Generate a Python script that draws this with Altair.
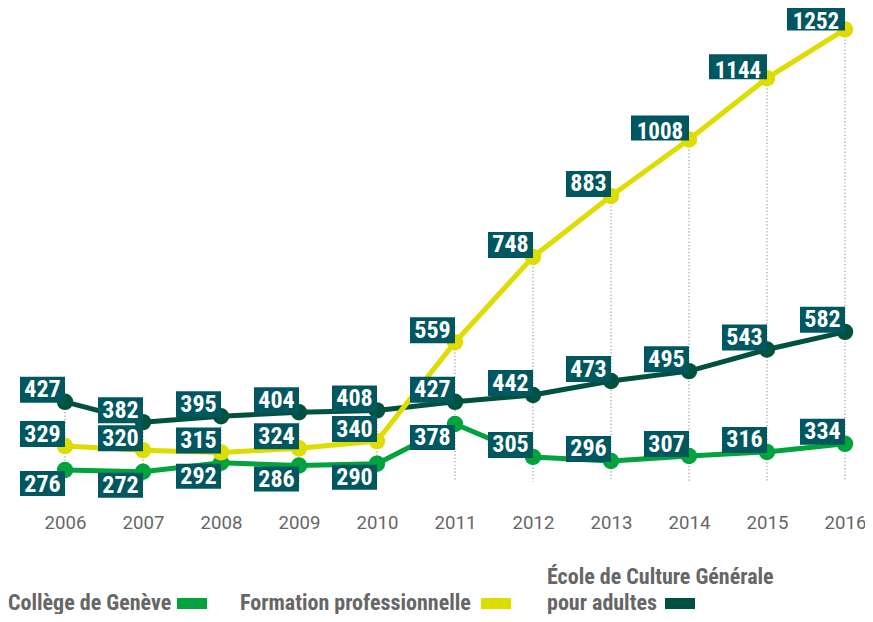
import altair as alt
import pandas as pd

years = list(range(2006, 2017))
series_names = ["École de Culture Générale pour adultes", "Collège de Genève", "Formation professionnelle"]
college = [276, 272, 292, 286, 290, 378, 305, 296, 307, 316, 334]
formation = [329, 320, 315, 324, 340, 559, 748, 883, 1008, 1144, 1252]
ecg = [427, 382, 395, 404, 408, 427, 442, 473, 495, 543, 582]
colors = {"Collège de Genève": "#00a33c", "Formation professionnelle": "#dedc00",
          "École de Culture Générale pour adultes": "#00513f"}

rows = []
for name, vals in zip(series_names, [ecg, college, formation]):
    for y, v in zip(years, vals):
        rows.append({"year": y, "series": name, "value": v})
df = pd.DataFrame(rows)

NARROW = "Liberation Sans Narrow, Arial Narrow, Roboto Condensed, sans-serif"
BOX = "#005760"

xs = alt.Scale(domain=[2006, 2016], nice=False, zero=False)
ys = alt.Scale(domain=[231.7, 1290.5], nice=False, zero=False)

base = alt.Chart(df)

xenc = alt.X("year:Q", scale=xs,
             axis=alt.Axis(values=years, format="d", grid=False, domain=False, ticks=False,
                           tickSize=0, labelPadding=38, labelFont="Roboto", labelFontSize=18.6,
                           labelColor="#666666", labelBaseline="alphabetic", title=None,
                           labelFlush=False))
yenc = alt.Y("value:Q", scale=ys, axis=None)

rules = base.transform_aggregate(top="max(value)", groupby=["year"]).transform_calculate(
    bottom="250").mark_rule(color="#999999", strokeWidth=1.2, strokeDash=[1.2, 2.2]).encode(
    x=xenc, y=alt.Y("top:Q", scale=ys, axis=None), y2="bottom:Q")

layers = [rules]
for name in series_names:
    s = base.transform_filter(alt.datum.series == name)
    layers.append(s.mark_line(color=colors[name], strokeWidth=5).encode(x=xenc, y=yenc))
    layers.append(s.mark_circle(color=colors[name], size=270, opacity=1).encode(x=xenc, y=yenc))

below = "(datum.series == 'Collège de Genève' && datum.year <= 2011)"
four = "(datum.value >= 1000)"

def label_layers(cond, w, yoff, y2off, dy, fs=24):
    s = base.transform_filter(cond)
    r = s.mark_rect(color=BOX, xOffset=-w, x2Offset=0, yOffset=yoff, y2Offset=y2off).encode(
        x=xenc, x2="year:Q", y=yenc, y2="value:Q")
    t = s.mark_text(color="white", font=NARROW, fontWeight="bold", fontSize=fs,
                    align="center", baseline="middle", dx=-w / 2, dy=dy).encode(
        x=xenc, y=yenc, text="value:Q")
    return [r, t]

layers += label_layers(f"!{below} && !{four}", 45, -25, 1, -11.5)
layers += label_layers(f"!{below} && {four}", 58, -24, 1, -7.5, 23)
layers += label_layers(f"{below}", 45, 1, 26, 14.5)

# legend
LEG = "#666666"
def leg_text(txt, x, y):
    return alt.Chart(pd.DataFrame({"t": [txt]})).mark_text(
        font=NARROW, fontWeight="bold", fontSize=22, color=LEG, align="left",
        baseline="alphabetic").encode(x=alt.value(x), y=alt.value(y), text="t:N")

def leg_swatch(x, y, c):
    return alt.Chart(pd.DataFrame({"a": [0]})).mark_rect(color=c).encode(
        x=alt.value(x), x2=alt.value(x + 30), y=alt.value(y), y2=alt.value(y + 11))

layers += [
    leg_text("Collège de Genève", -57, 598), leg_swatch(112, 586, colors["Collège de Genève"]),
    leg_text("Formation professionnelle", 175, 598), leg_swatch(416, 586, colors["Formation professionnelle"]),
    leg_text("École de Culture Générale", 482, 572), leg_text("pour adultes", 482, 598),
    leg_swatch(600, 586, colors["École de Culture Générale pour adultes"]),
]

chart = alt.layer(*layers).properties(
    width=780, height=478,
    padding={"left": 57, "top": 4, "right": 20, "bottom": 124},
    autosize=alt.AutoSizeParams(type="none"),
).configure_view(stroke=None)

chart.save("out.html", embed_options={"renderer": "svg", "actions": False})
